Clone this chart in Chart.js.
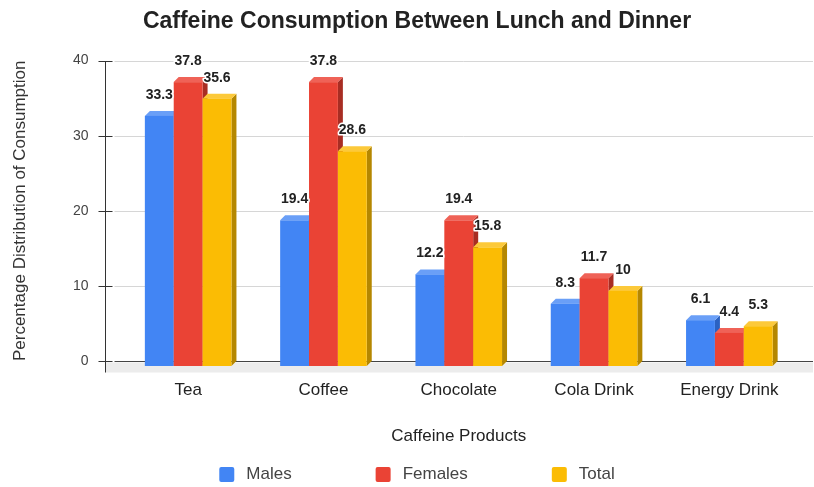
<!DOCTYPE html>
<html>
<head>
<meta charset="utf-8">
<script src="https://cdn.jsdelivr.net/npm/chart.js@4"></script>
<style>
  html, body { margin: 0; padding: 0; background: #fff; }
  #wrap { width: 814px; height: 487px; }
</style>
</head>
<body>
<div id="wrap"><canvas id="chart"></canvas></div>
<script>
const categories = ["Tea", "Coffee", "Chocolate", "Cola Drink", "Energy Drink"];
const males = [33.3, 19.4, 12.2, 8.3, 6.1];
const females = [37.8, 37.8, 19.4, 11.7, 4.4];
const total = [35.6, 28.6, 15.8, 10, 5.3];
const yTicks = [0, 10, 20, 30, 40];

const FONT = '"Liberation Sans", Arial, sans-serif';
const depth = 5;
const faces = [
  { front: "#4285F4", top: "#6a9ff7", side: "#2b62c2" },
  { front: "#EA4335", top: "#ef6257", side: "#a82d23" },
  { front: "#FBBC04", top: "#fcc93a", side: "#b58700" }
];

function poly(ctx, pts, color) {
  ctx.beginPath();
  ctx.moveTo(pts[0][0], pts[0][1]);
  for (let k = 1; k < pts.length; k++) ctx.lineTo(pts[k][0], pts[k][1]);
  ctx.closePath();
  ctx.fillStyle = color;
  ctx.fill();
}

// draws the back wall, floor, axis and the 3d bars from the bar elements
const bars3d = {
  id: "bars3d",
  beforeDatasetsDraw(chart) {
    const { ctx, chartArea: a, scales: { y } } = chart;
    const axisX = Math.round(a.left - 16) + 0.5;
    const right = a.right + 16;
    const y0 = Math.round(y.getPixelForValue(0)) + 0.5;
    ctx.save();

    ctx.fillStyle = "#ececec";
    ctx.fillRect(axisX, y0 + 1, right - axisX, 10);

    ctx.lineWidth = 1;
    yTicks.forEach(v => {
      const py = Math.round(y.getPixelForValue(v)) + 0.5;
      ctx.strokeStyle = v === 0 ? "#444" : "#d6d6d6";
      ctx.beginPath();
      ctx.moveTo(axisX + 9, py);
      ctx.lineTo(right, py);
      ctx.stroke();
      ctx.strokeStyle = "#333";
      ctx.beginPath();
      ctx.moveTo(axisX - 7, py);
      ctx.lineTo(axisX + 7, py);
      ctx.stroke();
    });
    ctx.strokeStyle = "#333";
    ctx.beginPath();
    ctx.moveTo(axisX, Math.round(y.getPixelForValue(40)));
    ctx.lineTo(axisX, y0 + 11);
    ctx.stroke();

    const metas = chart.data.datasets.map((_, i) => chart.getDatasetMeta(i));
    categories.forEach((_, i) => {
      metas.forEach((meta, d) => {
        const el = meta.data[i];
        const f = faces[d];
        const l = el.x - el.width / 2, r = el.x + el.width / 2;
        const top = el.y + depth, bot = el.base + depth;
        poly(ctx, [[r, top], [r + depth, el.y], [r + depth, el.base], [r, bot]], f.side);
        poly(ctx, [[l, top], [l + depth, el.y], [r + depth, el.y], [r, top]], f.top);
        ctx.fillStyle = f.front;
        ctx.fillRect(l, top, r - l, bot - top);
      });
    });

    ctx.font = "bold 14px " + FONT;
    ctx.textAlign = "center";
    ctx.textBaseline = "middle";
    ctx.lineJoin = "round";
    metas.forEach((meta, d) => {
      meta.data.forEach((el, i) => {
        const txt = String(chart.data.datasets[d].data[i]);
        const ty = el.y - 16;
        ctx.strokeStyle = "#fff";
        ctx.lineWidth = 3;
        ctx.strokeText(txt, el.x, ty);
        ctx.fillStyle = "#222";
        ctx.fillText(txt, el.x, ty);
      });
    });
    ctx.restore();
    return false;
  },
  afterDraw(chart) {
    const { ctx } = chart;
    const ds = chart.data.datasets;
    const box = 15, gap = 12, itemGap = 84, cx = 417, cy = 474.5;
    ctx.save();
    ctx.font = "17px " + FONT;
    const widths = ds.map(s => box + gap + ctx.measureText(s.label).width);
    let x = cx - (widths.reduce((s, w) => s + w, 0) + itemGap * (ds.length - 1)) / 2;
    ctx.textBaseline = "middle";
    ctx.textAlign = "left";
    ds.forEach((s, d) => {
      ctx.fillStyle = faces[d].front;
      ctx.beginPath();
      ctx.roundRect(x, cy - box / 2, box, box, 2);
      ctx.fill();
      ctx.fillStyle = "#444";
      ctx.fillText(s.label, x + box + gap, cy);
      x += widths[d] + itemGap;
    });
    ctx.restore();
  }
};

new Chart(document.getElementById("chart"), {
  type: "bar",
  data: {
    labels: categories,
    datasets: [
      { label: "Males", data: males, backgroundColor: faces[0].front },
      { label: "Females", data: females, backgroundColor: faces[1].front },
      { label: "Total", data: total, backgroundColor: faces[2].front }
    ]
  },
  options: {
    responsive: true,
    maintainAspectRatio: false,
    animation: false,
    devicePixelRatio: 1,
    layout: { padding: { left: 37, right: 17, top: 0, bottom: 30 } },
    datasets: { bar: { categoryPercentage: 0.64, barPercentage: 1 } },
    plugins: {
      legend: { display: false },
      tooltip: { enabled: false },
      title: {
        display: true,
        text: "Caffeine Consumption Between Lunch and Dinner",
        color: "#222",
        font: { family: FONT, size: 23, weight: "bold" },
        padding: { top: 8, bottom: 25 }
      }
    },
    scales: {
      x: {
        grid: { display: false, drawTicks: false },
        border: { display: false },
        ticks: { color: "#222", padding: 19, font: { family: FONT, size: 17 } },
        title: {
          display: true,
          text: "Caffeine Products",
          color: "#222",
          font: { family: FONT, size: 17 },
          padding: { top: 0, bottom: 10 }
        },
        afterFit: s => { s.height = 96; }
      },
      y: {
        min: 0,
        max: 40,
        grid: { display: false, drawTicks: false },
        border: { display: false },
        afterBuildTicks: s => { s.ticks = yTicks.map(v => ({ value: v })); },
        ticks: { color: "#444", padding: 32, font: { family: FONT, size: 14 } },
        title: {
          display: true,
          text: "Percentage Distribution of Consumption",
          color: "#333",
          font: { family: FONT, size: 17 },
          padding: { top: -27, bottom: 0 }
        },
        afterFit: s => { s.width = 83.5; }
      }
    }
  },
  plugins: [bars3d]
});
</script>
</body>
</html>
